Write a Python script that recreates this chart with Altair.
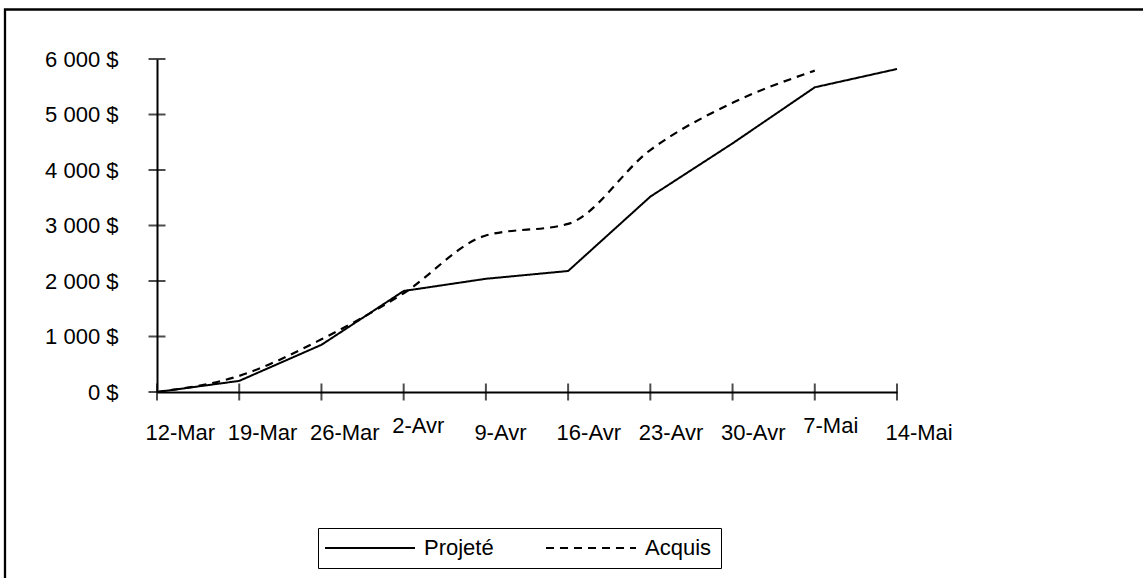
import altair as alt
import pandas as pd

dates = ["12-Mar", "19-Mar", "26-Mar", "2-Avr", "9-Avr", "16-Avr", "23-Avr", "30-Avr", "7-Mai", "14-Mai"]
projete = [0, 200, 850, 1820, 2040, 2180, 3520, 4480, 5490, 5820]
acquis = [0, 290, 950, 1780, 2820, 3030, 4360, 5210, 5790]
y_ticks = [0, 1000, 2000, 3000, 4000, 5000, 6000]
series = ["Projeté", "Acquis"]

rows = []
for d, v in zip(dates, projete):
    rows.append({"date": d, "valeur": v, "serie": "Projeté"})
for d, v in zip(dates, acquis):
    rows.append({"date": d, "valeur": v, "serie": "Acquis"})
df = pd.DataFrame(rows)

FONT = "Liberation Sans"
W, H = 740, 333
LEFT, TOP = 157, 59
TOTAL_W, TOTAL_H = 1143, 578

x_axis = alt.Axis(title=None, ticks=False, tickSize=0, labelAngle=0,
                  labelAlign="left", labelOffset=-12,
                  labelPadding={"condition": {"test": "datum.value == '2-Avr' || datum.value == '7-Mai'",
                                              "value": 23}, "value": 30},
                  labelBaseline="top", labelFont=FONT, labelFontSize=22,
                  labelColor="black", domainColor="black", domainWidth=2,
                  grid=False)
y_axis = alt.Axis(title=None, values=y_ticks, ticks=False, tickSize=0,
                  labelPadding=39, labelFont=FONT, labelFontSize=22,
                  labelColor="black", domainColor="black", domainWidth=2,
                  grid=False,
                  labelExpr="replace(format(datum.value, ','), ',', ' ') + ' $'")
x_scale = alt.Scale(type="point", padding=0)
y_scale = alt.Scale(domain=[0, 6000], nice=False)

x_enc = alt.X("date:O", sort=dates, scale=x_scale, axis=x_axis)
y_enc = alt.Y("valeur:Q", scale=y_scale, axis=y_axis)

dash = alt.StrokeDash("serie:N",
                      scale=alt.Scale(domain=series, range=[[1, 0], [8, 6]]),
                      legend=alt.Legend(title=None, orient="none", legendX=161, legendY=469,
                                        direction="horizontal", symbolType="M-2.6,0H15.4",
                                        symbolSize=100, symbolStrokeWidth=2,
                                        symbolStrokeColor="black",
                                        symbolFillColor="transparent",
                                        labelFont=FONT,
                                        labelFontSize=22, labelColor="black",
                                        labelOffset=75, columnPadding=48,
                                        padding=9, strokeColor="black",
                                        fillColor="white", labelLimit=0))

base = alt.Chart(df)
solid = base.transform_filter(alt.datum.serie == "Projeté").mark_line(
    color="black", strokeWidth=2).encode(x=x_enc, y=y_enc, strokeDash=dash)
dashed = base.transform_filter(alt.datum.serie == "Acquis").mark_line(
    color="black", strokeWidth=2.2, interpolate="monotone").encode(x=x_enc, y=y_enc, strokeDash=dash)

xt = alt.Chart(pd.DataFrame({"date": dates})).mark_tick(
    color="black", thickness=2, size=17, orient="vertical").encode(
    x=alt.X("date:O", sort=dates, scale=x_scale, axis=x_axis), y=alt.value(H))
yt = alt.Chart(pd.DataFrame({"valeur": y_ticks})).mark_tick(
    color="black", thickness=2, size=17, orient="horizontal").encode(
    y=alt.Y("valeur:Q", scale=y_scale, axis=y_axis), x=alt.value(0))

one = pd.DataFrame({"k": [0]})
frame = alt.Chart(one).mark_rect(fill=None, stroke="black", strokeWidth=2.3).encode(
    x=alt.value(5 - LEFT), y=alt.value(9.5 - TOP),
    x2=alt.value(TOTAL_W + 40 - LEFT), y2=alt.value(TOTAL_H + 40 - TOP))

chart = alt.layer(solid, dashed, xt, yt, frame).properties(
    width=W, height=H,
    autosize=alt.AutoSizeParams(type="none"),
    padding={"left": LEFT, "top": TOP, "right": TOTAL_W - LEFT - W, "bottom": TOTAL_H - TOP - H},
    background="white",
).configure_view(stroke=None)

chart.save("out.html", embed_options={"renderer": "svg", "actions": False})
